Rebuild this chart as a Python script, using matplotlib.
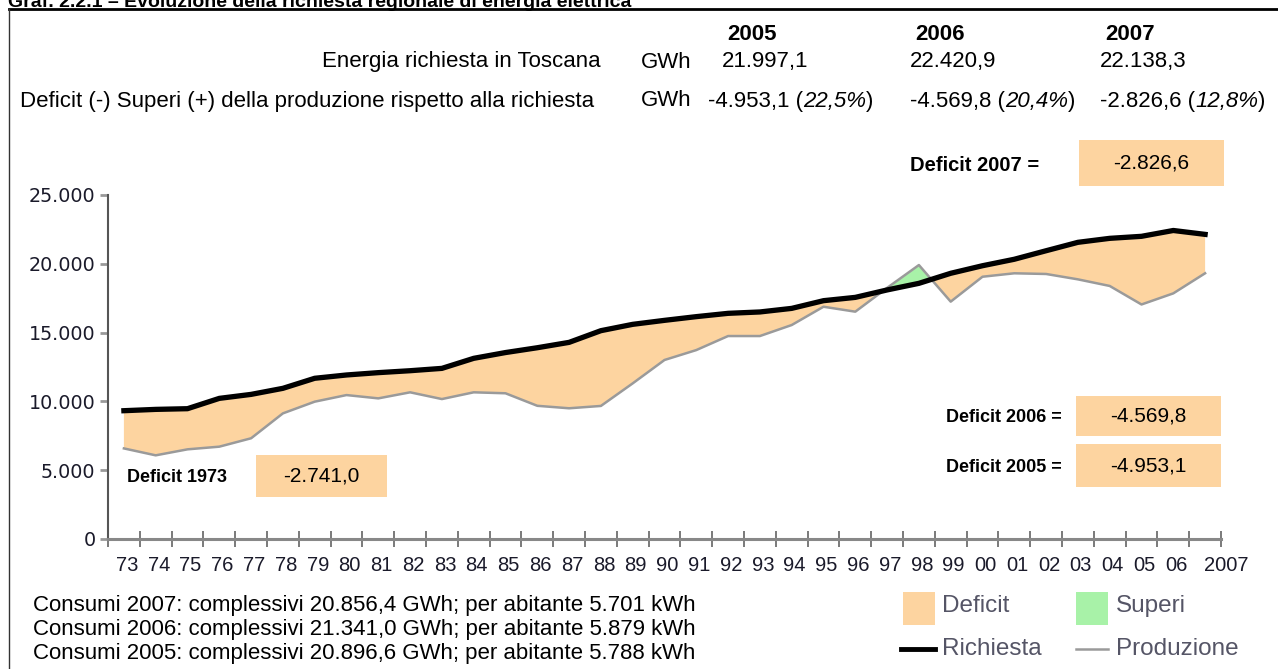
import numpy as np
import matplotlib
matplotlib.use("Agg")
import matplotlib.pyplot as plt
import matplotlib.transforms as mtransforms
from matplotlib import font_manager
from matplotlib.patches import Rectangle
from matplotlib.lines import Line2D

plt.rcParams['font.family'] = ['Liberation Sans', 'DejaVu Sans']

# ---- data (GWh) ----
anni = ['73', '74', '75', '76', '77', '78', '79', '80', '81', '82', '83', '84',
        '85', '86', '87', '88', '89', '90', '91', '92', '93', '94', '95', '96',
        '97', '98', '99', '00', '01', '02', '03', '04', '05', '06', '2007']
richiesta = [9324, 9420, 9470, 10220, 10510, 10950, 11680, 11920, 12090, 12230,
             12400, 13130, 13550, 13900, 14290, 15140, 15600, 15890, 16160, 16400,
             16500, 16760, 17320, 17560, 18100, 18580, 19310, 19860, 20330, 20950,
             21560, 21850, 21997.1, 22420.9, 22138.3]
produzione = [6583, 6080, 6516, 6710, 7320, 9130, 9980, 10460, 10220, 10660,
              10170, 10660, 10590, 9680, 9500, 9670, 11310, 13010, 13730, 14750,
              14750, 15550, 16880, 16520, 18250, 19910, 17250, 19060, 19310, 19260,
              18870, 18390, 17044.0, 17851.1, 19311.7]

header_anni = ['2005', '2006', '2007']
energia_richiesta = ['21.997,1', '22.420,9', '22.138,3']
deficit_val = ['-4.953,1', '-4.569,8', '-2.826,6']
deficit_pct = ['22,5%', '20,4%', '12,8%']
consumi = ['Consumi 2007: complessivi 20.856,4 GWh; per abitante 5.701 kWh',
           'Consumi 2006: complessivi 21.341,0 GWh; per abitante 5.879 kWh',
           'Consumi 2005: complessivi 20.896,6 GWh; per abitante 5.788 kWh']
riquadri = [('Deficit 2007 =', '-2.826,6'), ('Deficit 2006 =', '-4.569,8'),
            ('Deficit 2005 =', '-4.953,1'), ('Deficit 1973', '-2.741,0')]

ORANGE = '#FDD4A0'
GREEN = '#A8F2A8'
GRAY = '#9a9a9a'

names = {f.name for f in font_manager.fontManager.ttflist}
NARROW = 'Liberation Sans Narrow' if 'Liberation Sans Narrow' in names else 'Liberation Sans'

W, H = 1278, 669
fig = plt.figure(figsize=(W / 100, H / 100), dpi=100)


def fx(x):
    return x / W


def fy(y):
    return 1 - y / H


# frame
fig.add_artist(Line2D([fx(9), 1], [fy(9), fy(9)], color='black', lw=2))
fig.add_artist(Line2D([fx(9), fx(9)], [fy(9), 0], color='#333333', lw=1))
fig.text(fx(8), fy(7), 'Graf. 2.2.1 – Evoluzione della richiesta regionale di energia elettrica',
         fontsize=14, fontweight='bold', va='baseline')

# ---- main chart ----
ax = fig.add_axes([fx(108), fy(539), (1221 - 108) / W, (539 - 195) / H])
x = np.arange(len(anni))
r = np.array(richiesta)
p = np.array(produzione)
ax.fill_between(x, p, r, where=r >= p, interpolate=True, color=ORANGE, lw=0)
ax.fill_between(x, p, r, where=p >= r, interpolate=True, color=GREEN, lw=0)
ax.plot(x, p, color=GRAY, lw=1.8)
ax.plot(x, r, color='black', lw=3.8)

ax.set_xlim(-0.5, len(anni) - 0.5)
ax.set_ylim(0, 25000)
ax.set_xticks(np.arange(len(anni) + 1) - 0.5)
ax.set_xticklabels([])
ax.set_xticks(x, minor=True)
ax.set_xticklabels(anni, minor=True, fontsize=14.5, color='#1a1a2a')
ax.tick_params(axis='x', which='major', direction='inout', length=11, width=1.3, color='#707070')
ax.tick_params(axis='x', which='minor', length=0, pad=12)
shift = mtransforms.ScaledTranslation(3 / 100, 0, fig.dpi_scale_trans)
last_shift = mtransforms.ScaledTranslation(21 / 100, 0, fig.dpi_scale_trans)
labels = ax.get_xticklabels(minor=True)
for lab in labels[:-1]:
    lab.set_transform(lab.get_transform() + shift)
labels[-1].set_transform(labels[-1].get_transform() + last_shift)

ax.set_yticks(range(0, 25001, 5000))
ax.set_yticklabels([f'{v:,}'.replace(',', '.') for v in range(0, 25001, 5000)],
                   fontsize=13.8, family='DejaVu Sans', color='#1a1a2a')
ax.tick_params(axis='y', direction='out', length=6, width=2, color='#999999', pad=3)
for s in ['top', 'right']:
    ax.spines[s].set_visible(False)
ax.spines['left'].set_color('#555555')
ax.spines['left'].set_linewidth(1.5)
ax.spines['bottom'].set_color('#888888')
ax.spines['bottom'].set_linewidth(2.2)
ax.patch.set_alpha(0)

# ---- header table ----
renderer = fig.canvas.get_renderer()
col_x = [722, 910, 1100]
for cx, a in zip(col_x, header_anni):
    fig.text(fx(cx + 5), fy(34), a, fontsize=16, fontweight='bold', va='center')
fig.text(fx(601), fy(62), 'Energia richiesta in Toscana', fontsize=16, ha='right', va='center')
fig.text(fx(20), fy(101), 'Deficit (-) Superi (+) della produzione rispetto alla richiesta',
         fontsize=16, va='center')
fig.text(fx(641), fy(62), 'GWh', fontsize=16, va='center')
fig.text(fx(641), fy(101), 'GWh', fontsize=16, va='center')
for cx, v in zip(col_x, energia_richiesta):
    fig.text(fx(cx), fy(62), v, fontsize=16, va='center')
row2_x = [708, 910, 1100]
for cx, v, pc in zip(row2_x, deficit_val, deficit_pct):
    xpos = fx(cx)
    for txt, st in [(v + ' (', 'normal'), (pc, 'italic'), (')', 'normal')]:
        t = fig.text(xpos, fy(101), txt, fontsize=16, style=st, va='center')
        xpos = fig.transFigure.inverted().transform(
            (t.get_window_extent(renderer).x1, 0))[0]

# ---- deficit boxes ----
boxes = [(910, 1079, 1224, 140, 186, 14.5), (946, 1076, 1221, 396, 436, 13),
         (946, 1076, 1221, 444, 487, 13), (127, 256, 387, 455, 497, 13)]
for (lab, val), (lx, x0, x1, y0, y1, fs) in zip(riquadri, boxes):
    fig.add_artist(Rectangle((fx(x0), fy(y1)), (x1 - x0) / W, (y1 - y0) / H,
                             transform=fig.transFigure, color=ORANGE, lw=0))
    fig.text(fx(lx), fy((y0 + y1) / 2 + 2), lab, family=NARROW, fontweight='bold',
             fontsize=fs, va='center')
    fig.text(fx((x0 + x1) / 2), fy((y0 + y1) / 2), val, fontsize=15,
             ha='center', va='center')

# ---- consumi ----
for i, c in enumerate(consumi):
    fig.text(fx(33), fy(605 + i * 24), c, fontsize=16, va='center')

# ---- legend ----
LEG = '#555566'
fig.add_artist(Rectangle((fx(903), fy(625)), 32 / W, 33 / H, transform=fig.transFigure,
                         color=ORANGE, lw=0))
fig.add_artist(Rectangle((fx(1076), fy(625)), 32 / W, 33 / H, transform=fig.transFigure,
                         color=GREEN, lw=0))
fig.add_artist(Line2D([fx(901), fx(935)], [fy(649), fy(649)], color='black', lw=3.5))
fig.add_artist(Line2D([fx(1076), fx(1108)], [fy(649), fy(649)], color=GRAY, lw=1.8))
fig.text(fx(942), fy(606), 'Deficit', fontsize=17.5, color=LEG, va='center')
fig.text(fx(1116), fy(606), 'Superi', fontsize=17.5, color=LEG, va='center')
fig.text(fx(942), fy(649), 'Richiesta', fontsize=17.5, color=LEG, va='center')
fig.text(fx(1116), fy(649), 'Produzione', fontsize=17.5, color=LEG, va='center')

fig.savefig('out.png', dpi=100)
